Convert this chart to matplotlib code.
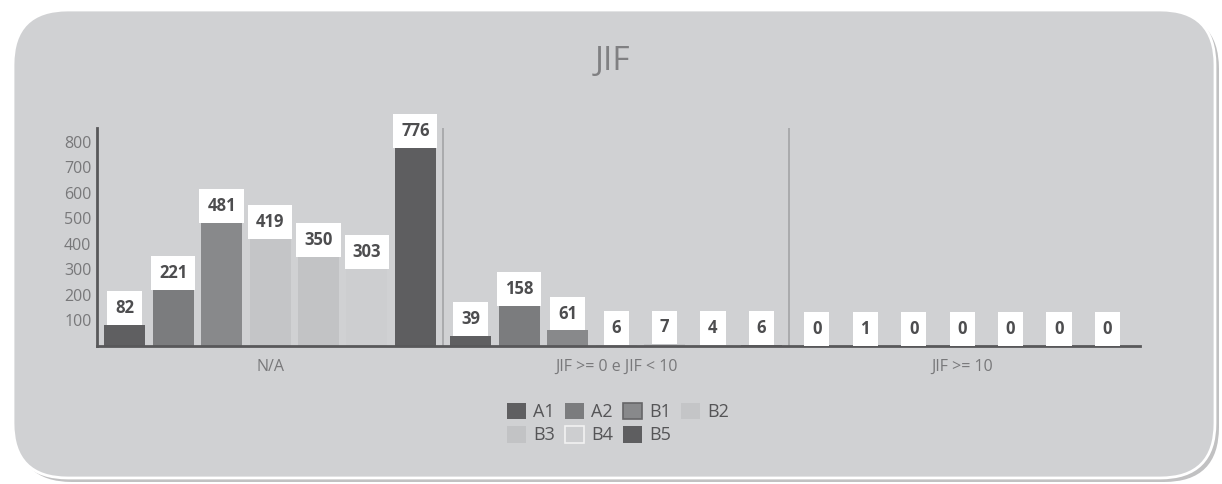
import matplotlib.pyplot as plt
from matplotlib.patches import FancyBboxPatch, Patch
import numpy as np

plt.rcParams['font.family'] = ['Open Sans', 'DejaVu Sans']

# dados
categorias = ["N/A", "JIF >= 0 e JIF < 10", "JIF >= 10"]
estratos = ["A1", "A2", "B1", "B2", "B3", "B4", "B5"]
A1 = [82, 39, 0]
A2 = [221, 158, 1]
B1 = [481, 61, 0]
B2 = [419, 6, 0]
B3 = [350, 7, 0]
B4 = [303, 4, 0]
B5 = [776, 6, 0]
series = [A1, A2, B1, B2, B3, B4, B5]
yticks = [100, 200, 300, 400, 500, 600, 700, 800]

cores = ["#5f5f61", "#7b7c7e", "#88898b", "#c4c5c7", "#c2c3c5", "#cdced0", "#5e5e60"]
bordas_leg = ["none", "none", "#666668", "none", "none", "#f2f2f2", "none"]

fig = plt.figure(figsize=(12.22, 4.84), dpi=100)
fig.patch.set_facecolor("white")

# painel arredondado de fundo (coordenadas em pixels)
bg = fig.add_axes([0, 0, 1, 1], zorder=0)
bg.set_xlim(0, 1222)
bg.set_ylim(484, 0)
bg.axis("off")
sombra = FancyBboxPatch((17, 14), 1202, 468, boxstyle="round,pad=0,rounding_size=55",
                        fc="#8e8e90", ec="none", alpha=0.55)
bg.add_patch(sombra)
painel = FancyBboxPatch((13, 10), 1202, 468, boxstyle="round,pad=0,rounding_size=55",
                        fc="#d0d1d3", ec="white", lw=2)
bg.add_patch(painel)
bg.text(612, 62, "JIF", ha="center", va="center", fontsize=24, color="#808082")

ax = fig.add_axes([0.0794, 0.285, 0.8535, 0.450], zorder=1)
ax.set_facecolor("none")

x = np.arange(len(categorias))
passo = 0.14
largura = 0.1185
pad = 0.47
fs_val = 12
for i, (nome, vals, cor) in enumerate(zip(estratos, series, cores)):
    pos = x + (i - 3) * passo
    ax.bar(pos, vals, width=largura, color=cor, zorder=2)
    for px, v in zip(pos, vals):
        ax.annotate(str(v), (px, v), xytext=(0, pad * fs_val), textcoords="offset points",
                    ha="center", va="bottom", fontsize=fs_val, fontweight="bold",
                    color="#4d4d4f", zorder=4,
                    bbox=dict(boxstyle=f"square,pad={pad}", fc="white", ec="none"))

# separadores entre grupos
for d in [0.5, 1.5]:
    ax.axvline(d, color="#a3a4a6", lw=1.2, zorder=1)

ax.set_xlim(-0.5, 2.514)
ax.set_ylim(0, 852)
ax.set_yticks(yticks)
ax.set_yticklabels([str(t) for t in yticks])
ax.set_xticks(x)
ax.set_xticklabels(categorias)
ax.tick_params(axis="y", length=0, pad=4, labelsize=11.5, labelcolor="#78787a")
ax.tick_params(axis="x", length=0, pad=9, labelsize=11.5, labelcolor="#78787a")
for s in ["top", "right"]:
    ax.spines[s].set_visible(False)
ax.spines["left"].set_color("#58585a")
ax.spines["left"].set_linewidth(2)
ax.spines["bottom"].set_color("#58585a")
ax.spines["bottom"].set_linewidth(2)

# legenda em ordem por linhas (4 colunas)
handles = [Patch(fc=c, ec=e, lw=1.2, label=n) for n, c, e in zip(estratos, cores, bordas_leg)]
ordem = [0, 4, 1, 5, 2, 6, 3]
fig.legend([handles[k] for k in ordem], [estratos[k] for k in ordem], ncol=4,
           loc="center", bbox_to_anchor=(0.506, 0.125), frameon=False,
           fontsize=13, labelcolor="#555557", handlelength=1.05, handleheight=1.05,
           handletextpad=0.4, columnspacing=0.55, labelspacing=0.25)

fig.savefig("out.png", dpi=100)
